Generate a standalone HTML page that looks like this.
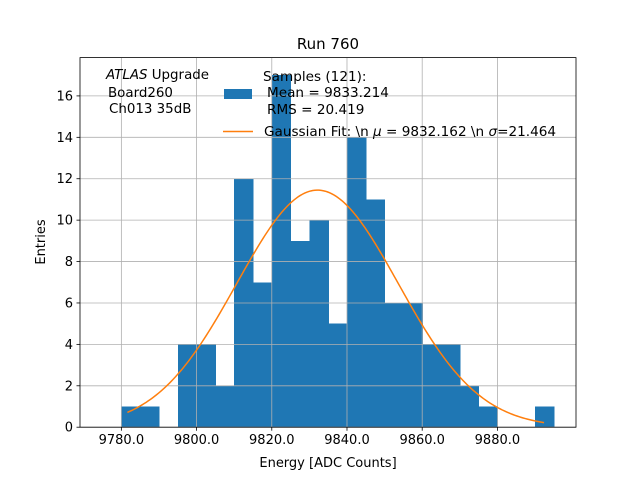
<!DOCTYPE html>
<html><head><meta charset="utf-8"><style>
body{margin:0;background:#fff;}
svg text{font-family:"DejaVu Sans","Liberation Sans",sans-serif;fill:#000;}
</style></head><body>
<svg id="chart" width="640" height="480" xmlns="http://www.w3.org/2000/svg">
<rect width="640" height="480" fill="#fff"/>
<g id="bars" shape-rendering="crispEdges"></g>
<g id="grid"></g>
<g id="fit"></g>
<g id="axes"></g>
</svg>
<script>
const binStarts=[9780,9785,9790,9795,9800,9805,9810,9815,9820,9825,9830,9835,9840,9845,9850,9855,9860,9865,9870,9875,9880,9885,9890];
const counts=[1,1,0,4,4,2,12,7,17,9,10,5,14,11,6,6,4,4,2,1,0,0,1];
const binWidth=5;
const xTicks=[9780,9800,9820,9840,9860,9880];
const xTickLabels=["9780.0","9800.0","9820.0","9840.0","9860.0","9880.0"];
const yTicks=[0,2,4,6,8,10,12,14,16];
const fitParams=[9832.162,21.464,11.45]; // mu, sigma, amplitude
const fitRange=[9781.6,9892.4];

const L=80,R=576,T=57.6,B=427.2;
const xMin=9769.0,xMax=9900.9,yMin=0,yMax=17.85;
const X=v=>L+(v-xMin)/(xMax-xMin)*(R-L);
const Y=v=>B-(v-yMin)/(yMax-yMin)*(B-T);
const NS="http://www.w3.org/2000/svg";
function mk(tag,attrs,parent){const e=document.createElementNS(NS,tag);for(const k in attrs)e.setAttribute(k,attrs[k]);parent.appendChild(e);return e;}
const grid=document.getElementById('grid'),bars=document.getElementById('bars'),fit=document.getElementById('fit'),axes=document.getElementById('axes');

xTicks.forEach((t,i)=>{
  const g=mk('line',{x1:X(t),x2:X(t),y1:T,y2:B,stroke:'#b0b0b0','stroke-width':0.8},grid);
  
  
  mk('line',{x1:X(t),x2:X(t),y1:B,y2:B+3.5,stroke:'#000','stroke-width':0.8},axes);
  const tx=mk('text',{x:X(t),y:B+17,'text-anchor':'middle','font-size':'13'},axes);
  tx.textContent=xTickLabels[i];
  
  
});
yTicks.forEach(t=>{
  const g=mk('line',{x1:L,x2:R,y1:Y(t),y2:Y(t),stroke:'#b0b0b0','stroke-width':0.8},grid);
  
  
  mk('line',{x1:L-3.5,x2:L,y1:Y(t),y2:Y(t),stroke:'#000','stroke-width':0.8},axes);
  const tx=mk('text',{x:L-7,y:Y(t)+4.5,'text-anchor':'end','font-size':'13'},axes);
  tx.textContent=String(t);
  
  
});
binStarts.forEach((s,i)=>{
  if(!counts[i])return;
  const r=mk('rect',{x:X(s),y:Y(counts[i]),width:X(s+binWidth)-X(s)+0.6,height:Y(0)-Y(counts[i]),fill:'#1f77b4'},bars);
  
  
});
let d='';
for(let k=0;k<=200;k++){
  const x=fitRange[0]+(fitRange[1]-fitRange[0])*k/200;
  const y=fitParams[2]*Math.exp(-0.5*Math.pow((x-fitParams[0])/fitParams[1],2));
  d+=(k?'L':'M')+X(x).toFixed(2)+','+Y(y).toFixed(2);
}
const p=mk('path',{d:d,fill:'none',stroke:'#ff7f0e','stroke-width':1.5},fit);


const fr=mk('rect',{x:L,y:T,width:R-L,height:B-T,fill:'none',stroke:'#000','stroke-width':0.8},axes);


</script>
<svg style="position:absolute;left:0;top:0" width="640" height="480" xmlns="http://www.w3.org/2000/svg">
<text x="328" y="49" text-anchor="middle" font-size="15">Run 760</text>
<text x="328" y="467" text-anchor="middle" font-size="13">Energy [ADC Counts]</text>
<text transform="translate(45,242) rotate(-90)" text-anchor="middle" font-size="13">Entries</text>
<g font-size="13.4">
<text x="106" y="79"><tspan font-style="italic">ATLAS</tspan> Upgrade</text>
<text x="108" y="97">Board260</text>
<text x="109" y="113">Ch013 35dB</text>
</g>
<g font-size="13.6">
<rect x="224" y="89" width="28" height="10" fill="#1f77b4"/>
<text x="263" y="81">Samples (121):</text>
<text x="267" y="97">Mean = 9833.214</text>
<text x="267" y="114">RMS = 20.419</text>
<line x1="223" x2="253" y1="131.5" y2="131.5" stroke="#ff7f0e" stroke-width="1.5"/>
<text x="264" y="136">Gaussian Fit: \n <tspan font-style="italic">μ</tspan> = 9832.162 \n <tspan font-style="italic">σ</tspan>=21.464</text>
</g>
</svg>
</body></html>
